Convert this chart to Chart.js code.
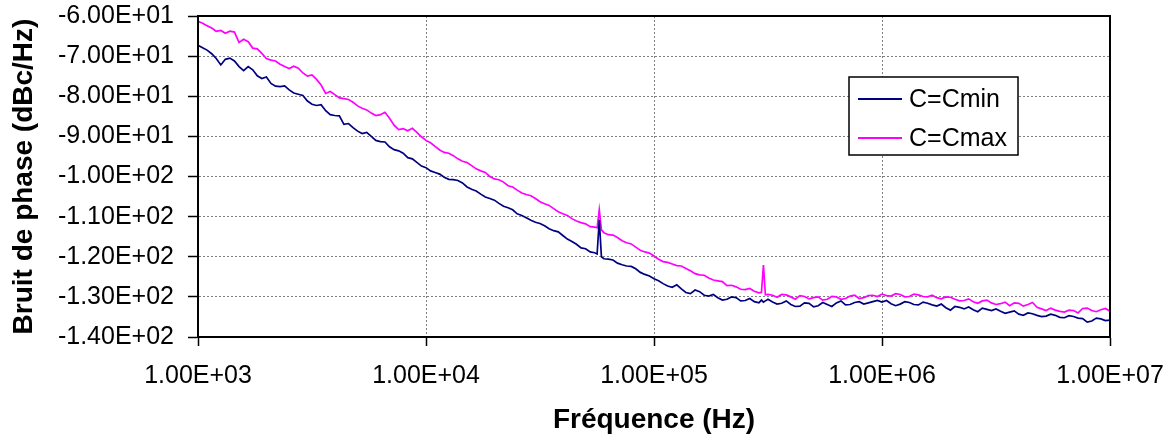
<!DOCTYPE html>
<html>
<head>
<meta charset="utf-8">
<script src="https://cdn.jsdelivr.net/npm/chart.js@4.4.0/dist/chart.umd.min.js"></script>
<style>
  html, body { margin: 0; padding: 0; background: #fff; }
  #wrap { width: 1176px; height: 439px; }
</style>
</head>
<body>
<div id="wrap"><canvas id="bruitChart" width="1176" height="439"></canvas></div>
<script>
// frequences (Hz), communes aux deux courbes
const freqHz = [
  1000, 1047, 1096, 1148, 1202, 1259, 1318, 1380, 1445, 1514, 1585, 1660, 1738, 1820, 1905, 1995, 2089, 2188, 2291, 2399,
  2512, 2630, 2754, 2884, 3020, 3162, 3311, 3467, 3631, 3802, 3981, 4169, 4365, 4571, 4786, 5012, 5248, 5495, 5754, 6026,
  6310, 6607, 6918, 7244, 7586, 7943, 8318, 8710, 9120, 9550,
  10000, 10470, 10960, 11480, 12020, 12590, 13180, 13800, 14450, 15140, 15850, 16600, 17380, 18200, 19050, 19950, 20890, 21880, 22910, 23990,
  25120, 26300, 27540, 28840, 30200, 31620, 33110, 34670, 36310, 38020, 39810, 41690, 43650, 45710, 47860, 50120, 52480, 54950,
  56300, 57540, 58800, 60260, 63100, 66070, 69180, 72440, 75860, 79430, 83180, 87100, 91200, 95500,
  100000, 104700, 109600, 114800, 120200, 125900, 131800, 138000, 144500, 151400, 158500, 166000, 173800, 182000, 190500, 199500, 208900, 218800, 229100, 239900,
  251200, 263000, 275400, 288400, 296000, 302000, 308000, 316200, 331100, 346700, 363100, 380200, 398100, 416900, 436500, 457100, 478600, 501200,
  524800, 549500, 575400, 602600, 631000, 660700, 691800, 724400, 758600, 794300, 831800, 871000, 912000, 955000,
  1000000, 1047000, 1096000, 1148000, 1202000, 1259000, 1318000, 1380000, 1445000, 1514000, 1585000, 1660000, 1738000, 1820000, 1905000, 1995000,
  2089000, 2188000, 2291000, 2399000, 2512000, 2630000, 2754000, 2884000, 3020000, 3162000, 3311000, 3467000, 3631000, 3802000, 3981000, 4169000,
  4365000, 4571000, 4786000, 5012000, 5248000, 5495000, 5754000, 6026000, 6310000, 6607000, 6918000, 7244000, 7586000, 7943000, 8318000, 8710000,
  9120000, 9550000, 10000000
];

// C=Cmin (dBc/Hz)
const cminDb = [
  -67.3, -67.9, -68.5, -69.4, -70.6, -72.2, -70.8, -70.5, -71.2, -72.6, -73.6, -72.6, -73.4, -74.9, -75.6, -75.2, -76.8, -77.5, -77.6, -77.4,
  -78.4, -79.2, -79.5, -79.8, -81.2, -82.0, -82.3, -82.1, -83.6, -84.6, -84.8, -84.9, -87.0, -86.8, -87.8, -88.7, -89.3, -89.0, -90.0, -91.0,
  -91.3, -91.4, -92.6, -93.3, -93.6, -94.2, -95.3, -95.6, -96.5, -97.4,
  -97.8, -98.6, -99.0, -99.4, -100.2, -100.7, -100.8, -101.0, -101.6, -102.6, -103.2, -103.6, -104.4, -105.1, -105.5, -105.9, -106.7, -107.4, -107.8, -108.3,
  -109.3, -109.7, -110.3, -110.9, -111.4, -111.7, -112.3, -113.0, -113.5, -113.8, -114.7, -115.6, -116.2, -116.9, -117.8, -118.0, -118.8, -119.0,
  -119.3, -110.8, -120.0, -120.5, -120.6, -120.8, -121.6, -122.0, -122.3, -122.4, -123.0, -123.9, -124.4, -124.8,
  -125.5, -126.0, -126.7, -127.3, -127.6, -127.0, -128.0, -128.9, -129.2, -128.3, -128.7, -129.6, -129.8, -129.4, -130.2, -130.8, -130.6, -130.0, -130.2, -131.0,
  -130.9, -130.4, -131.2, -131.5, -130.8, -131.3, -131.0, -130.6, -131.3, -131.8, -131.6, -131.0, -131.9, -132.4, -132.3, -131.5, -131.6, -132.5,
  -132.2, -131.4, -131.9, -132.4, -131.5, -131.0, -132.0, -131.9, -131.4, -131.2, -131.8, -131.5, -131.2, -130.9,
  -131.3, -130.9, -131.7, -132.2, -131.8, -131.2, -131.4, -131.9, -132.0, -131.3, -131.6, -132.0, -132.3, -131.8, -132.7, -133.3,
  -132.4, -132.6, -133.0, -132.5, -133.2, -133.7, -132.8, -133.1, -133.4, -133.0, -133.6, -134.1, -133.8, -133.5, -134.3, -134.6,
  -134.0, -134.2, -134.6, -134.9, -134.8, -134.3, -134.6, -135.1, -135.2, -134.7, -134.9, -135.3, -135.4, -136.3, -136.0, -135.3,
  -135.5, -135.9, -135.8
];

// C=Cmax (dBc/Hz)
const cmaxDb = [
  -61.3, -61.8, -62.4, -63.0, -63.8, -63.6, -64.3, -63.8, -64.0, -66.6, -65.8, -66.4, -68.0, -68.2, -69.3, -70.6, -71.0, -71.2, -72.0, -72.6,
  -73.1, -72.5, -73.0, -74.2, -75.0, -74.7, -75.8, -77.2, -79.3, -78.8, -79.6, -80.4, -80.6, -80.8, -81.5, -82.4, -83.0, -83.4, -84.2, -84.8,
  -84.6, -84.0, -85.5, -87.2, -88.3, -88.1, -88.6, -88.0, -89.0, -90.1,
  -91.0, -91.6, -92.5, -93.4, -94.0, -94.2, -94.8, -95.6, -96.2, -96.5, -97.3, -98.1, -98.6, -99.0, -100.0, -100.6, -100.8, -101.4, -102.3, -102.6,
  -103.4, -104.1, -104.5, -104.8, -105.5, -106.3, -106.8, -107.2, -108.0, -108.8, -109.3, -109.7, -110.5, -111.1, -111.5, -111.8, -112.5, -112.6,
  -112.8, -108.3, -113.3, -114.0, -114.5, -114.6, -115.2, -116.0, -116.5, -116.8, -117.6, -118.4, -118.8, -119.1,
  -119.8, -120.6, -121.2, -121.4, -121.8, -122.2, -122.3, -122.9, -123.5, -124.2, -124.5, -124.6, -125.3, -125.8, -126.0, -126.2, -127.2, -127.1, -127.5, -128.1,
  -128.2, -127.9, -128.6, -129.0, -128.9, -122.1, -129.5, -129.4, -129.6, -130.1, -129.4, -129.5, -130.0, -130.6, -129.7, -129.9, -130.5, -130.2,
  -130.0, -130.8, -130.6, -129.9, -130.0, -130.6, -130.4, -129.8, -129.6, -130.4, -130.2, -129.7, -129.6, -129.9,
  -129.3, -129.7, -129.8, -129.2, -129.4, -130.0, -129.9, -129.3, -129.5, -129.9, -130.0, -129.6, -130.2, -130.5, -130.0, -130.1,
  -130.6, -131.0, -130.9, -130.5, -131.2, -131.6, -131.0, -130.8, -131.5, -131.9, -131.7, -131.3, -132.2, -131.5, -131.6, -132.3,
  -131.9, -131.4, -132.6, -133.0, -133.4, -132.8, -133.3, -133.6, -133.8, -133.3, -133.4, -134.0, -132.9, -132.8, -133.4, -133.7,
  -133.2, -132.9, -133.6
];

const seriesNames = ['C=Cmin', 'C=Cmax'];
const seriesColors = ['#000080', '#FF00FF'];
const xTicks = [1e3, 1e4, 1e5, 1e6, 1e7];

// format type Excel : -6.00E+01
function sci(v) {
  const s = Number(v).toExponential(2).toUpperCase();
  const parts = s.split('E');
  const exp = parts[1][0] + parts[1].slice(1).padStart(2, '0');
  return parts[0] + 'E' + exp;
}

Chart.defaults.font.family = '"Liberation Sans", Arial, sans-serif';
Chart.defaults.color = '#000';

// cadre noir autour de la zone de tracé
const frame = {
  id: 'frame',
  afterDraw(chart) {
    const { ctx, chartArea: a } = chart;
    ctx.save();
    ctx.strokeStyle = '#000';
    ctx.lineWidth = 2;
    ctx.strokeRect(a.left, a.top, a.right - a.left, a.bottom - a.top);
    ctx.restore();
  }
};

// légende encadrée dans la zone de tracé
const legendBox = {
  id: 'legendBox',
  afterDraw(chart) {
    const { ctx, chartArea: a } = chart;
    const x0 = a.right - 261, y0 = a.top + 61, w = 169, h = 78;
    ctx.save();
    ctx.fillStyle = '#fff';
    ctx.fillRect(x0, y0, w, h);
    ctx.strokeStyle = '#000';
    ctx.lineWidth = 1.5;
    ctx.strokeRect(x0, y0, w, h);
    ctx.font = '25px "Liberation Sans", Arial, sans-serif';
    ctx.textBaseline = 'middle';
    chart.data.datasets.forEach((ds, i) => {
      const y = y0 + 22 + i * 39;
      ctx.strokeStyle = ds.borderColor;
      ctx.lineWidth = 1.8;
      ctx.beginPath();
      ctx.moveTo(x0 + 9, y);
      ctx.lineTo(x0 + 53, y);
      ctx.stroke();
      ctx.fillStyle = '#000';
      ctx.fillText(ds.label, x0 + 60, y + 1);
    });
    ctx.restore();
  }
};

const ctx = document.getElementById('bruitChart').getContext('2d');
new Chart(ctx, {
  type: 'line',
  data: {
    datasets: [cminDb, cmaxDb].map((vals, i) => ({
      label: seriesNames[i],
      data: freqHz.map((f, j) => ({ x: f, y: vals[j] })),
      borderColor: seriesColors[i],
      backgroundColor: seriesColors[i],
      borderWidth: 1.7,
      pointRadius: 0,
      tension: 0,
      fill: false
    }))
  },
  options: {
    responsive: false,
    animation: false,
    devicePixelRatio: 1,
    layout: { padding: { left: 0, right: 66, top: 16, bottom: 0 } },
    plugins: {
      legend: { display: false },
      tooltip: { enabled: false }
    },
    scales: {
      x: {
        type: 'logarithmic',
        min: 1000,
        max: 10000000,
        afterBuildTicks: s => { s.ticks = xTicks.map(v => ({ value: v })); },
        afterFit: s => { s.height = 102; s.paddingLeft = 0; s.paddingRight = 0; },
        ticks: {
          autoSkip: false,
          maxRotation: 0,
          padding: 15,
          font: { size: 25 },
          callback: v => sci(v)
        },
        grid: { color: '#808080', lineWidth: 1, tickLength: 9, tickColor: '#000', tickWidth: 1.5 },
        border: { color: '#000', width: 2, dash: [2, 2] },
        title: {
          display: true,
          text: 'Fréquence (Hz)',
          font: { size: 28, weight: 'bold' },
          padding: { top: 0, bottom: 2 }
        }
      },
      y: {
        min: -140,
        max: -60,
        afterFit: s => { s.width = 198; s.paddingTop = 0; s.paddingBottom = 0; },
        ticks: {
          stepSize: 10,
          padding: 14,
          font: { size: 25 },
          callback: v => sci(v)
        },
        grid: { color: '#808080', lineWidth: 1, tickLength: 10, tickColor: '#000', tickWidth: 1.5 },
        border: { color: '#000', width: 2, dash: [2, 2] },
        title: {
          display: true,
          text: 'Bruit de phase (dBc/Hz)',
          font: { size: 28, weight: 'bold' },
          padding: { top: 7, bottom: 0 }
        }
      }
    }
  },
  plugins: [frame, legendBox]
});
</script>
</body>
</html>
